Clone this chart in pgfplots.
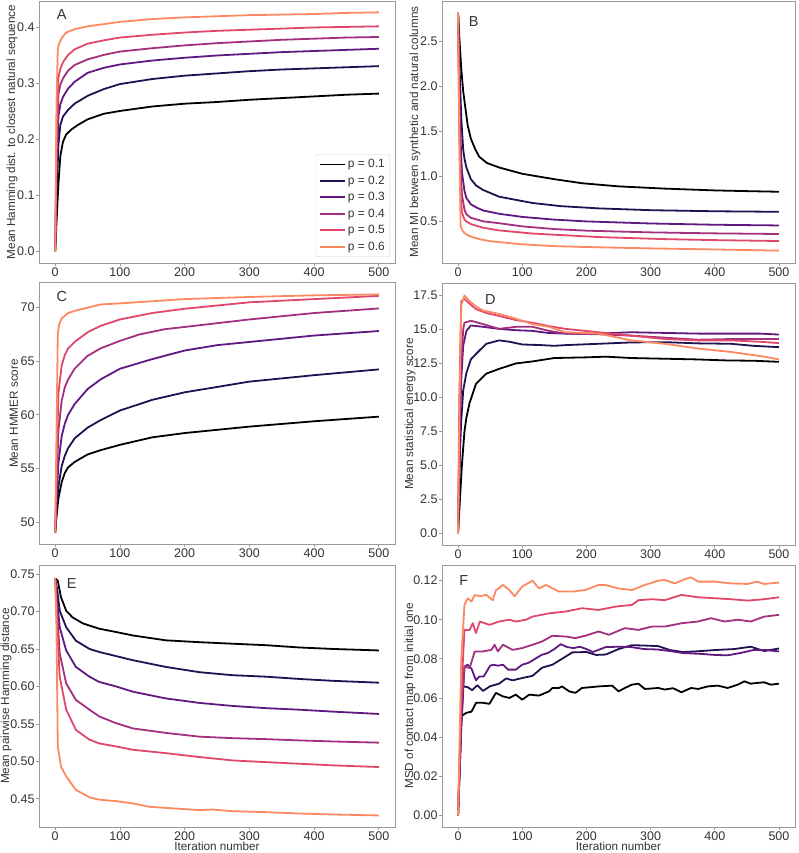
\documentclass[border=0pt]{standalone}
\usepackage{fontspec}
\setmainfont{Liberation Sans}
\usepackage{pgfplots}
\pgfplotsset{compat=1.18}
\definecolor{c1}{HTML}{000004}
\definecolor{c2}{HTML}{221150}
\definecolor{c3}{HTML}{5F187F}
\definecolor{c4}{HTML}{A3307E}
\definecolor{c5}{HTML}{E0476A}
\definecolor{c6}{HTML}{FC8961}
\definecolor{framegray}{HTML}{9A9A9A}
\definecolor{txt}{HTML}{333333}
\tikzset{letter/.style={font=\fontsize{14.5}{17}\selectfont, text=txt}}
\pgfplotsset{
  panel/.style={
    scale only axis, height=262pt,
    anchor=south west,
    xmin=-25, xmax=525, xtick={0,100,200,300,400,500},
    tick align=outside, xtick pos=left, ytick pos=left,
    major tick length=3pt,
    tick style={framegray, line width=0.8pt},
    axis line style={framegray, line width=0.8pt},
    ticklabel style={font=\fontsize{12.5}{15}\selectfont, text=txt},
    yticklabel style={inner sep=1.2pt},
    xticklabel style={inner sep=1.2pt, /pgf/number format/1000 sep={}},
    every axis y label/.style={at={(rel axis cs:0,0.5)}, xshift=#1, rotate=90, anchor=center,
       font=\fontsize{11.7}{14}\selectfont, text=txt},
    every axis x label/.style={at={(rel axis cs:0.5,0)}, yshift=-23.5pt, anchor=base, inner sep=0pt,
       font=\fontsize{11.7}{14}\selectfont, text=txt},
    /pgf/number format/assume math mode=true,
    every axis plot/.append style={line width=1.8pt, no marks, line join=round},
    clip=true,
  },
}
\begin{document}
\begin{tikzpicture}
\useasboundingbox (0,0) rectangle (798pt,853pt);
% ---------- A ----------
\begin{axis}[panel=-27pt, at={(39pt,590pt)}, width=356pt,
  ymin=-0.02125, ymax=0.44625, ytick={0,0.1,0.2,0.3,0.4},
  yticklabel style={/pgf/number format/fixed,/pgf/number format/fixed zerofill,/pgf/number format/precision=1},
  ylabel={Mean Hamming dist. to closest natural sequence},
  legend style={at={(0.986,0.023)}, anchor=south east, draw=gray!35, rounded corners=2pt,
    font=\fontsize{12}{14}\selectfont, text=txt, row sep=2.6pt, inner sep=3pt, fill=white},
  legend cell align=left,
  legend image code/.code={\draw[#1, line width=1.8pt] (0pt,0pt) -- (25pt,0pt);},
]
\addplot[c1] coordinates {(0,0)(2,0.05)(5,0.12)(8,0.17)(12,0.195)(17,0.208)(25,0.217)(35,0.225)(50,0.235)(75,0.245)(100,0.25)(150,0.258)(200,0.263)(250,0.266)(300,0.27)(350,0.273)(400,0.276)(450,0.279)(500,0.281)};
\addplot[c2] coordinates {(0,0)(2,0.09)(5,0.19)(8,0.225)(12,0.24)(20,0.252)(30,0.263)(50,0.277)(75,0.289)(100,0.298)(150,0.307)(200,0.313)(250,0.317)(300,0.321)(350,0.324)(400,0.326)(450,0.328)(500,0.330)};
\addplot[c3] coordinates {(0,0)(2,0.13)(5,0.24)(8,0.262)(12,0.275)(20,0.29)(30,0.302)(50,0.318)(75,0.327)(100,0.333)(150,0.34)(200,0.345)(250,0.349)(300,0.352)(350,0.355)(400,0.357)(450,0.359)(500,0.361)};
\addplot[c4] coordinates {(0,0)(2,0.16)(5,0.28)(8,0.297)(12,0.308)(20,0.322)(30,0.332)(50,0.342)(75,0.35)(100,0.356)(150,0.362)(200,0.367)(250,0.371)(300,0.374)(350,0.377)(400,0.379)(450,0.381)(500,0.382)};
\addplot[c5] coordinates {(0,0)(2,0.2)(5,0.31)(8,0.325)(12,0.337)(20,0.35)(30,0.36)(50,0.37)(75,0.376)(100,0.381)(150,0.386)(200,0.39)(250,0.393)(300,0.395)(350,0.397)(400,0.399)(450,0.4)(500,0.401)};
\addplot[c6] coordinates {(0,0)(2,0.26)(4,0.36)(6,0.37)(10,0.38)(17,0.39)(30,0.396)(50,0.401)(75,0.405)(100,0.409)(150,0.414)(200,0.417)(250,0.419)(300,0.421)(350,0.422)(400,0.423)(450,0.425)(500,0.426)};
\legend{p = 0.1, p = 0.2, p = 0.3, p = 0.4, p = 0.5, p = 0.6}
\node[letter] at (rel axis cs:0.064,0.947) {A};
\end{axis}
% ---------- B ----------
\begin{axis}[panel=-27pt, at={(442pt,590pt)}, width=353pt,
  ymin=0.0375, ymax=2.9525, ytick={0.5,1.0,1.5,2.0,2.5},
  yticklabel style={/pgf/number format/fixed,/pgf/number format/fixed zerofill,/pgf/number format/precision=1},
  ylabel={Mean MI between synthetic and natural columns},
]
\addplot[c1] coordinates {(0,2.82)(2,2.55)(5,2.2)(8,1.95)(10,1.84)(15,1.57)(20,1.42)(27,1.3)(33,1.22)(45,1.15)(64,1.1)(100,1.03)(150,0.97)(193,0.925)(250,0.89)(322,0.865)(400,0.845)(450,0.837)(500,0.83)};
\addplot[c2] coordinates {(0,2.82)(2,2.3)(5,1.65)(8,1.3)(10,1.2)(13,1.1)(20,0.97)(28,0.9)(39,0.85)(64,0.775)(116,0.705)(160,0.67)(219,0.645)(300,0.625)(400,0.613)(500,0.607)};
\addplot[c3] coordinates {(0,2.82)(2,2.0)(4,1.4)(6,1.05)(10,0.84)(13,0.76)(20,0.69)(30,0.65)(40,0.62)(64,0.585)(100,0.55)(150,0.52)(200,0.5)(300,0.477)(400,0.463)(500,0.455)};
\addplot[c4] coordinates {(0,2.82)(2,1.8)(4,1.1)(6,0.8)(10,0.63)(13,0.58)(20,0.54)(40,0.5)(64,0.48)(100,0.445)(150,0.415)(200,0.397)(300,0.378)(400,0.367)(500,0.36)};
\addplot[c5] coordinates {(0,2.82)(2,1.5)(4,0.8)(6,0.6)(10,0.52)(13,0.5)(20,0.47)(39,0.43)(64,0.40)(116,0.365)(219,0.326)(322,0.303)(400,0.292)(500,0.282)};
\addplot[c6] coordinates {(0,2.82)(2,1.4)(4,0.45)(6,0.41)(10,0.37)(13,0.355)(20,0.33)(35,0.3)(50,0.28)(100,0.245)(150,0.225)(219,0.212)(300,0.2)(400,0.188)(500,0.175)};
\node[letter] at (rel axis cs:0.09,0.92) {B};
\end{axis}
% ---------- C ----------
\begin{axis}[panel=-25pt, at={(39pt,308.5pt)}, width=356pt,
  ymin=47.9, ymax=72.35, ytick={50,55,60,65,70},
  ylabel={Mean HMMER score},
]
\addplot[c1] coordinates {(0,49)(2,50.5)(5,52.2)(10,53.7)(15,54.6)(20,55.1)(30,55.6)(50,56.3)(70,56.7)(100,57.2)(150,57.9)(200,58.3)(250,58.6)(300,58.9)(400,59.4)(500,59.83)};
\addplot[c2] coordinates {(0,49)(2,51)(5,53.3)(10,55.2)(15,56.2)(20,56.9)(30,57.8)(50,58.8)(70,59.5)(100,60.4)(150,61.4)(200,62.1)(250,62.6)(300,63.1)(400,63.7)(500,64.24)};
\addplot[c3] coordinates {(0,49)(2,52)(5,55.5)(10,58)(15,59.2)(20,60)(30,61)(50,62.4)(70,63.3)(100,64.3)(150,65.2)(200,66)(250,66.5)(300,66.8)(400,67.4)(500,67.82)};
\addplot[c4] coordinates {(0,49)(2,53)(5,58.5)(10,61.3)(15,62.6)(20,63.3)(30,64.3)(50,65.5)(70,66.2)(100,66.9)(130,67.5)(170,68)(200,68.2)(300,68.9)(400,69.5)(500,69.93)};
\addplot[c5] coordinates {(0,49)(2,55)(5,62)(10,64.6)(15,65.6)(20,66.2)(30,66.8)(50,67.7)(70,68.3)(100,68.9)(150,69.5)(200,69.9)(250,70.2)(300,70.5)(400,70.8)(500,71.1)};
\addplot[c6] coordinates {(0,49)(2,58)(4,67.5)(6,68.4)(10,69.0)(20,69.5)(30,69.7)(50,70.0)(70,70.3)(100,70.4)(150,70.6)(200,70.8)(300,71.0)(400,71.15)(500,71.24)};
\node[letter] at (rel axis cs:0.064,0.946) {C};
\end{axis}
% ---------- D ----------
\begin{axis}[panel=-32pt, at={(442pt,308pt)}, width=353pt,
  ymin=-0.88, ymax=18.43, ytick={0,2.5,5,7.5,10,12.5,15,17.5},
  yticklabel style={/pgf/number format/fixed,/pgf/number format/fixed zerofill,/pgf/number format/precision=1},
  ylabel={Mean statistical energy score},
]
\addplot[c1] coordinates {(0,0)(3,2.5)(6,5)(10,7.5)(13,8.5)(18,9.6)(28,11)(44,11.75)(64,12.1)(90,12.5)(116,12.65)(150,12.9)(200,12.95)(230,13.0)(270,12.9)(320,12.85)(370,12.8)(420,12.72)(460,12.7)(500,12.62)};
\addplot[c2] coordinates {(0,0)(3,6)(5,8.3)(8,10.5)(13,11.8)(20,12.8)(28,13.2)(44,13.95)(64,14.2)(80,14.1)(100,13.9)(130,13.85)(150,13.8)(167,13.85)(219,13.95)(270,14.05)(322,14.07)(374,13.98)(425,13.95)(460,13.8)(500,13.7)};
\addplot[c3] coordinates {(0,0)(3,8)(5,11.3)(8,13.8)(13,14.9)(20,15.3)(39,15.2)(64,15.05)(90,14.95)(116,14.9)(140,14.75)(167,14.7)(219,14.7)(270,14.8)(322,14.75)(374,14.7)(425,14.7)(470,14.7)(500,14.63)};
\addplot[c4] coordinates {(0,0)(3,9)(5,12.5)(8,15)(10,15.5)(20,15.65)(39,15.4)(64,15.05)(90,15.2)(116,15.2)(142,14.9)(167,14.7)(219,14.65)(270,14.55)(322,14.4)(374,14.25)(425,14.3)(470,14.3)(500,14.3)};
\addplot[c5] coordinates {(0,0)(2,10)(5,17.1)(10,17.25)(18,16.9)(28,16.5)(45,16.2)(64,16.0)(90,15.7)(116,15.5)(142,15.25)(167,15.05)(219,14.8)(270,14.55)(322,14.3)(374,14.2)(425,14.2)(470,14.1)(500,14.0)};
\addplot[c6] coordinates {(0,0)(2,9)(5,16.8)(10,17.5)(18,17.1)(28,16.7)(39,16.4)(64,16.15)(90,15.8)(116,15.4)(142,15.2)(167,14.8)(219,14.7)(270,14.2)(322,13.95)(374,13.6)(425,13.35)(477,13.0)(500,12.8)};
\node[letter] at (rel axis cs:0.137,0.937) {D};
\end{axis}
% ---------- E ----------
\begin{axis}[panel=-33pt, at={(39pt,26pt)}, width=356pt,
  ymin=0.4125, ymax=0.762, ytick={0.45,0.5,0.55,0.6,0.65,0.7,0.75},
  yticklabel style={/pgf/number format/fixed,/pgf/number format/fixed zerofill,/pgf/number format/precision=2},
  ylabel={Mean pairwise Hamming distance},
  xlabel={Iteration number},
]
\addplot[c1] coordinates {(0,0.744)(4,0.741)(9,0.719)(17,0.701)(27,0.692)(43,0.684)(68,0.677)(94,0.6726)(120,0.668)(171,0.6615)(223,0.659)(274,0.657)(326,0.655)(377,0.652)(429,0.65)(500,0.648)};
\addplot[c2] coordinates {(0,0.744)(3,0.73)(7,0.701)(17,0.679)(32,0.661)(53,0.65)(68,0.646)(120,0.635)(171,0.626)(223,0.619)(274,0.615)(326,0.613)(377,0.61)(429,0.6075)(500,0.605)};
\addplot[c3] coordinates {(0,0.744)(3,0.715)(7,0.679)(17,0.648)(32,0.626)(53,0.613)(68,0.606)(94,0.6)(120,0.593)(171,0.584)(223,0.578)(274,0.574)(326,0.571)(377,0.569)(429,0.5664)(500,0.5633)};
\addplot[c4] coordinates {(0,0.744)(3,0.7)(7,0.644)(17,0.604)(32,0.582)(53,0.569)(68,0.56)(94,0.551)(120,0.544)(171,0.538)(223,0.533)(274,0.531)(326,0.5297)(377,0.528)(429,0.5266)(500,0.525)};
\addplot[c5] coordinates {(0,0.744)(3,0.68)(7,0.613)(17,0.569)(32,0.542)(53,0.529)(68,0.524)(94,0.52)(120,0.5155)(171,0.511)(223,0.5058)(274,0.5013)(326,0.499)(377,0.4969)(429,0.4947)(500,0.4925)};
\addplot[c6] coordinates {(0,0.744)(2,0.68)(4,0.52)(9,0.493)(17,0.48)(32,0.462)(53,0.452)(68,0.449)(94,0.447)(120,0.444)(146,0.4394)(171,0.438)(223,0.435)(243,0.4358)(274,0.4336)(326,0.4323)(377,0.4305)(429,0.4292)(500,0.4279)};
\node[letter] at (rel axis cs:0.092,0.929) {E};
\end{axis}
% ---------- F ----------
\begin{axis}[panel=-32pt, at={(442pt,26pt)}, width=353pt,
  ymin=-0.006, ymax=0.128, ytick={0,0.02,0.04,0.06,0.08,0.1,0.12},
  yticklabel style={/pgf/number format/fixed,/pgf/number format/fixed zerofill,/pgf/number format/precision=2},
  ylabel={MSD of contact map from initial one},
  xlabel={Iteration number},
]
\addplot[c1] coordinates {(0,0)(5,0.0507)(13,0.0524)(21,0.053)(28,0.0575)(39,0.0575)(49,0.057)(59,0.0626)(70,0.0608)(80,0.06)(90,0.0617)(100,0.0591)(111,0.0617)(126,0.0612)(142,0.0634)(147,0.0651)(157,0.0651)(162,0.0659)(173,0.0634)(183,0.0626)(193,0.0651)(219,0.0659)(240,0.0663)(250,0.0634)(260,0.0651)(271,0.0668)(281,0.0673)(291,0.0646)(312,0.0651)(322,0.0643)(335,0.065)(348,0.0629)(363,0.0651)(374,0.0646)(389,0.0659)(405,0.0663)(420,0.0651)(436,0.0668)(446,0.0685)(456,0.0673)(466,0.0677)(477,0.068)(487,0.0668)(500,0.0673)};
\addplot[c2] coordinates {(0,0)(5,0.045)(8,0.066)(15,0.0655)(22,0.064)(30,0.0665)(39,0.0636)(50,0.066)(64,0.0673)(75,0.070)(85,0.069)(100,0.0702)(116,0.0713)(131,0.0755)(147,0.077)(162,0.080)(178,0.0833)(200,0.0835)(215,0.082)(230,0.0822)(250,0.085)(271,0.087)(291,0.0868)(312,0.0865)(330,0.0845)(350,0.0835)(370,0.0838)(400,0.0845)(430,0.085)(456,0.0862)(477,0.084)(500,0.0853)};
\addplot[c3] coordinates {(0,0)(5,0.045)(10,0.076)(15,0.077)(21,0.075)(28,0.069)(33,0.071)(40,0.071)(50,0.0765)(55,0.077)(62,0.0765)(70,0.077)(78,0.0745)(90,0.0745)(100,0.077)(110,0.078)(120,0.080)(130,0.082)(140,0.083)(150,0.085)(160,0.0875)(170,0.086)(180,0.0855)(190,0.0862)(200,0.085)(210,0.0835)(230,0.086)(250,0.0862)(270,0.086)(290,0.085)(310,0.0848)(330,0.084)(350,0.083)(380,0.0825)(400,0.082)(420,0.0818)(440,0.083)(460,0.0845)(480,0.0845)(500,0.0838)};
\addplot[c4] coordinates {(0,0)(5,0.054)(10,0.076)(18,0.0753)(26,0.0838)(39,0.0838)(52,0.0846)(57,0.0872)(62,0.0838)(70,0.0872)(85,0.0846)(100,0.0855)(116,0.0872)(131,0.0889)(147,0.0918)(168,0.0914)(183,0.0906)(198,0.0918)(219,0.094)(235,0.0923)(260,0.0957)(281,0.0948)(302,0.0965)(322,0.0965)(348,0.0982)(374,0.0991)(394,0.1008)(415,0.0991)(436,0.1)(456,0.0991)(477,0.1016)(500,0.1025)};
\addplot[c5] coordinates {(0,0)(5,0.0625)(10,0.0948)(18,0.0948)(23,0.0982)(28,0.0932)(34,0.0991)(49,0.0974)(64,0.0991)(80,0.1)(90,0.0991)(106,0.1)(116,0.1016)(142,0.1033)(168,0.1042)(193,0.1059)(219,0.105)(245,0.1067)(271,0.1076)(281,0.110)(302,0.1105)(322,0.110)(348,0.1127)(374,0.1115)(400,0.111)(425,0.1105)(451,0.1098)(477,0.1105)(500,0.1115)};
\addplot[c6] coordinates {(0,0)(5,0.0796)(10,0.1076)(15,0.111)(21,0.1093)(26,0.1127)(34,0.112)(44,0.1127)(54,0.110)(59,0.115)(70,0.1178)(80,0.1152)(88,0.112)(100,0.117)(116,0.12)(126,0.116)(137,0.1178)(157,0.1144)(178,0.1144)(198,0.1152)(219,0.1178)(229,0.1178)(250,0.116)(271,0.1152)(291,0.1178)(312,0.12)(322,0.1203)(338,0.1186)(353,0.1207)(363,0.1217)(374,0.1195)(400,0.1195)(425,0.1186)(451,0.1183)(466,0.1195)(477,0.1183)(500,0.119)};
\node[letter] at (rel axis cs:0.062,0.94) {F};
\end{axis}
\end{tikzpicture}
\end{document}
